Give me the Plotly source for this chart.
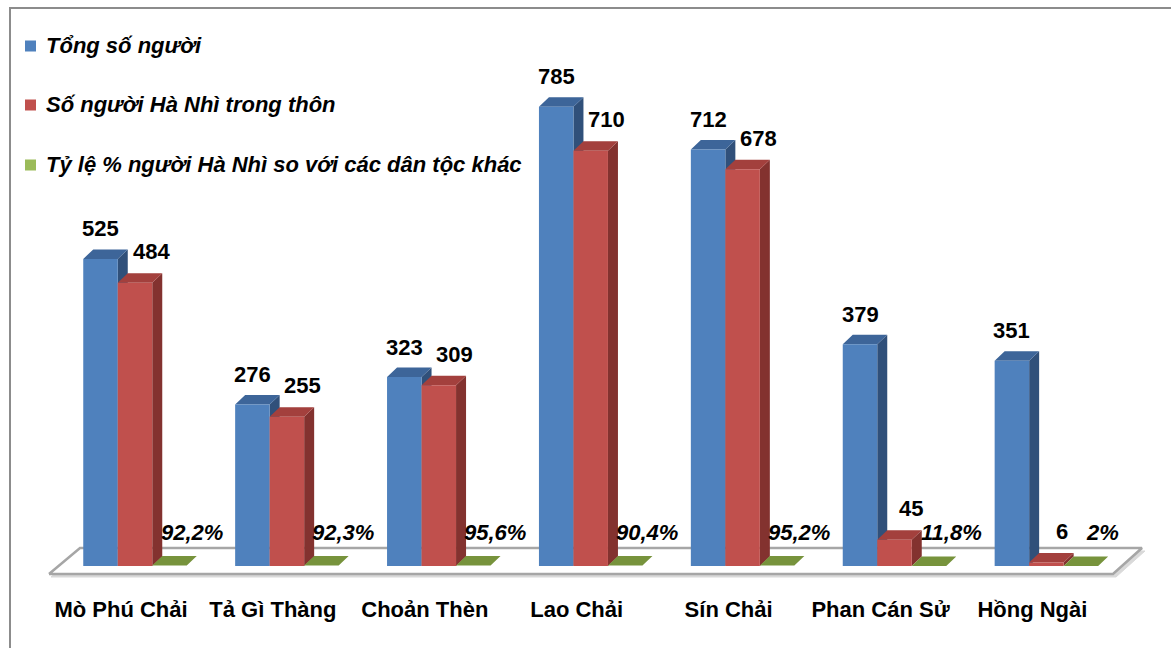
import plotly.graph_objects as go

# ---------------- data ----------------
villages = ["Mò Phú Chải", "Tả Gì Thàng", "Choản Thèn", "Lao Chải",
            "Sín Chải", "Phan Cán Sử", "Hồng Ngài"]
total_people = [525, 276, 323, 785, 712, 379, 351]
ha_nhi_people = [484, 255, 309, 710, 678, 45, 6]
ha_nhi_pct = [92.2, 92.3, 95.6, 90.4, 95.2, 11.8, 2]
series_names = ["Tổng số người", "Số người Hà Nhì trong thôn",
                "Tỷ lệ % người Hà Nhì so với các dân tộc khác"]

# ---------------- geometry / style ----------------
W, H = 1171, 648
ML, MR, MT, MB = 41, 26, 0, 64
PW, PH = W - ML - MR, H - MT - MB
PXU = 151.9          # px per category unit
PYU = 0.585          # px per value unit
C0_PX, BASE_PX = 135, 566
x_left = -(C0_PX - ML) / PXU
x_right = x_left + PW / PXU
y_top = (BASE_PX - MT) / PYU
y_bottom = y_top - PH / PYU

BW = 34.5 / PXU
DX = 10 / PXU
DY = 9.5 / PYU

FONT = "Liberation Sans, Arial, sans-serif"
front_cols = ["#4F81BD", "#C0504D", "#9BBB59"]
top_cols = ["#3D6599", "#A3403D", "#77933C"]
side_cols = ["#30507A", "#83322F", "#5E7530"]


def px2x(p):
    return (p - C0_PX) / PXU


def px2y(p):
    return (BASE_PX - p) / PYU


def polys_to_xy(polys):
    xs, ys = [], []
    for poly in polys:
        for (a, b) in poly + [poly[0]]:
            xs.append(a)
            ys.append(b)
        xs.append(None)
        ys.append(None)
    return xs, ys


fig = go.Figure()

# floor (with a soft shadow edge)
shadow = [(px2x(51), px2y(577)), (px2x(82), px2y(551)),
          (px2x(1145), px2y(551)), (px2x(1116), px2y(577))]
sx, sy = polys_to_xy([shadow])
fig.add_trace(go.Scatter(x=sx, y=sy, mode="lines", fill="toself",
                         fillcolor="#D9D9D9", line=dict(color="#D9D9D9", width=1),
                         showlegend=False, hoverinfo="skip"))
floor = [(px2x(49), px2y(574)), (px2x(80), px2y(548)),
         (px2x(1142), px2y(548)), (px2x(1113), px2y(574))]
fx, fy = polys_to_xy([floor])
fig.add_trace(go.Scatter(x=fx, y=fy, mode="lines", fill="toself",
                         fillcolor="white", line=dict(color="#A6A6A6", width=2.5),
                         showlegend=False, hoverinfo="skip"))

green_vals = [p / 100 for p in ha_nhi_pct]
all_vals = [total_people, ha_nhi_people, green_vals]

for s, vals in enumerate(all_vals):
    sides, tops, fronts = [], [], []
    for i, v in enumerate(vals):
        x0 = i - 1.5 * BW + s * BW
        x1 = x0 + BW
        fronts.append([(x0, 0), (x1, 0), (x1, v), (x0, v)])
        tops.append([(x0, v), (x1, v), (x1 + DX, v + DY), (x0 + DX, v + DY)])
        sides.append([(x1, 0), (x1 + DX, DY), (x1 + DX, v + DY), (x1, v)])
    for polys, col in ((sides, side_cols[s]), (tops, top_cols[s]), (fronts, front_cols[s])):
        px_, py_ = polys_to_xy(polys)
        fig.add_trace(go.Scatter(x=px_, y=py_, mode="lines", fill="toself",
                                 fillcolor=col, line=dict(width=0, color=col),
                                 name=series_names[s], showlegend=False,
                                 hoverinfo="skip"))

annotations = []
# data labels
for i in range(len(villages)):
    annotations.append(dict(x=i - BW, y=total_people[i], xref="x", yref="y",
                            text=f"<b>{total_people[i]}</b>", showarrow=False,
                            yshift=30, xanchor="center", yanchor="middle",
                            font=dict(family=FONT, size=22, color="black")))
    annotations.append(dict(x=i, y=ha_nhi_people[i], xref="x", yref="y",
                            text=f"<b>{ha_nhi_people[i]}</b>", showarrow=False,
                            xshift=16, yshift=31, xanchor="center", yanchor="middle",
                            font=dict(family=FONT, size=22, color="black")))
    lbl = f"{ha_nhi_pct[i]:g}".replace(".", ",") + "%"
    annotations.append(dict(x=i + BW, y=green_vals[i], xref="x", yref="y",
                            text=f"<b><i>{lbl}</i></b>", showarrow=False,
                            xshift=22, yshift=33, xanchor="center", yanchor="middle",
                            font=dict(family=FONT, size=22, color="black")))

# legend (manual)
def pxx(p):
    return (p - ML) / PW


def pxy(p):
    return 1 - (p - MT) / PH


shapes = []
legend_rows = [46, 105, 165]
for s, row in enumerate(legend_rows):
    shapes.append(dict(type="rect", xref="paper", yref="paper",
                       x0=pxx(25), x1=pxx(36), y0=pxy(row + 5.5), y1=pxy(row - 5.5),
                       fillcolor=front_cols[s], line=dict(width=0)))
    annotations.append(dict(x=pxx(44), y=pxy(row - 1), xref="paper", yref="paper",
                            text=f"<b><i>{series_names[s]}</i></b>", showarrow=False,
                            xanchor="left", yanchor="middle",
                            font=dict(family=FONT, size=22, color="black")))

# outer frame
shapes.append(dict(type="rect", xref="paper", yref="paper",
                   x0=pxx(10), x1=pxx(1200), y0=pxy(700), y1=pxy(8),
                   line=dict(color="#8C8C8C", width=2), fillcolor="rgba(0,0,0,0)"))

fig.update_layout(
    width=W, height=H, autosize=False,
    margin=dict(l=ML, r=MR, t=MT, b=MB, pad=0),
    paper_bgcolor="white", plot_bgcolor="white",
    showlegend=False,
    shapes=shapes, annotations=annotations,
    xaxis=dict(range=[x_left, x_right], showgrid=False, zeroline=False,
               showline=False, ticks="", tickmode="array",
               tickvals=[i - 14 / PXU for i in range(len(villages))],
               ticktext=villages,
               tickfont=dict(family=FONT, size=22, color="black", weight="bold"),
               ticklabelstandoff=10, fixedrange=True),
    yaxis=dict(range=[y_bottom, y_top], visible=False, fixedrange=True),
)

fig.write_html("out.html")
